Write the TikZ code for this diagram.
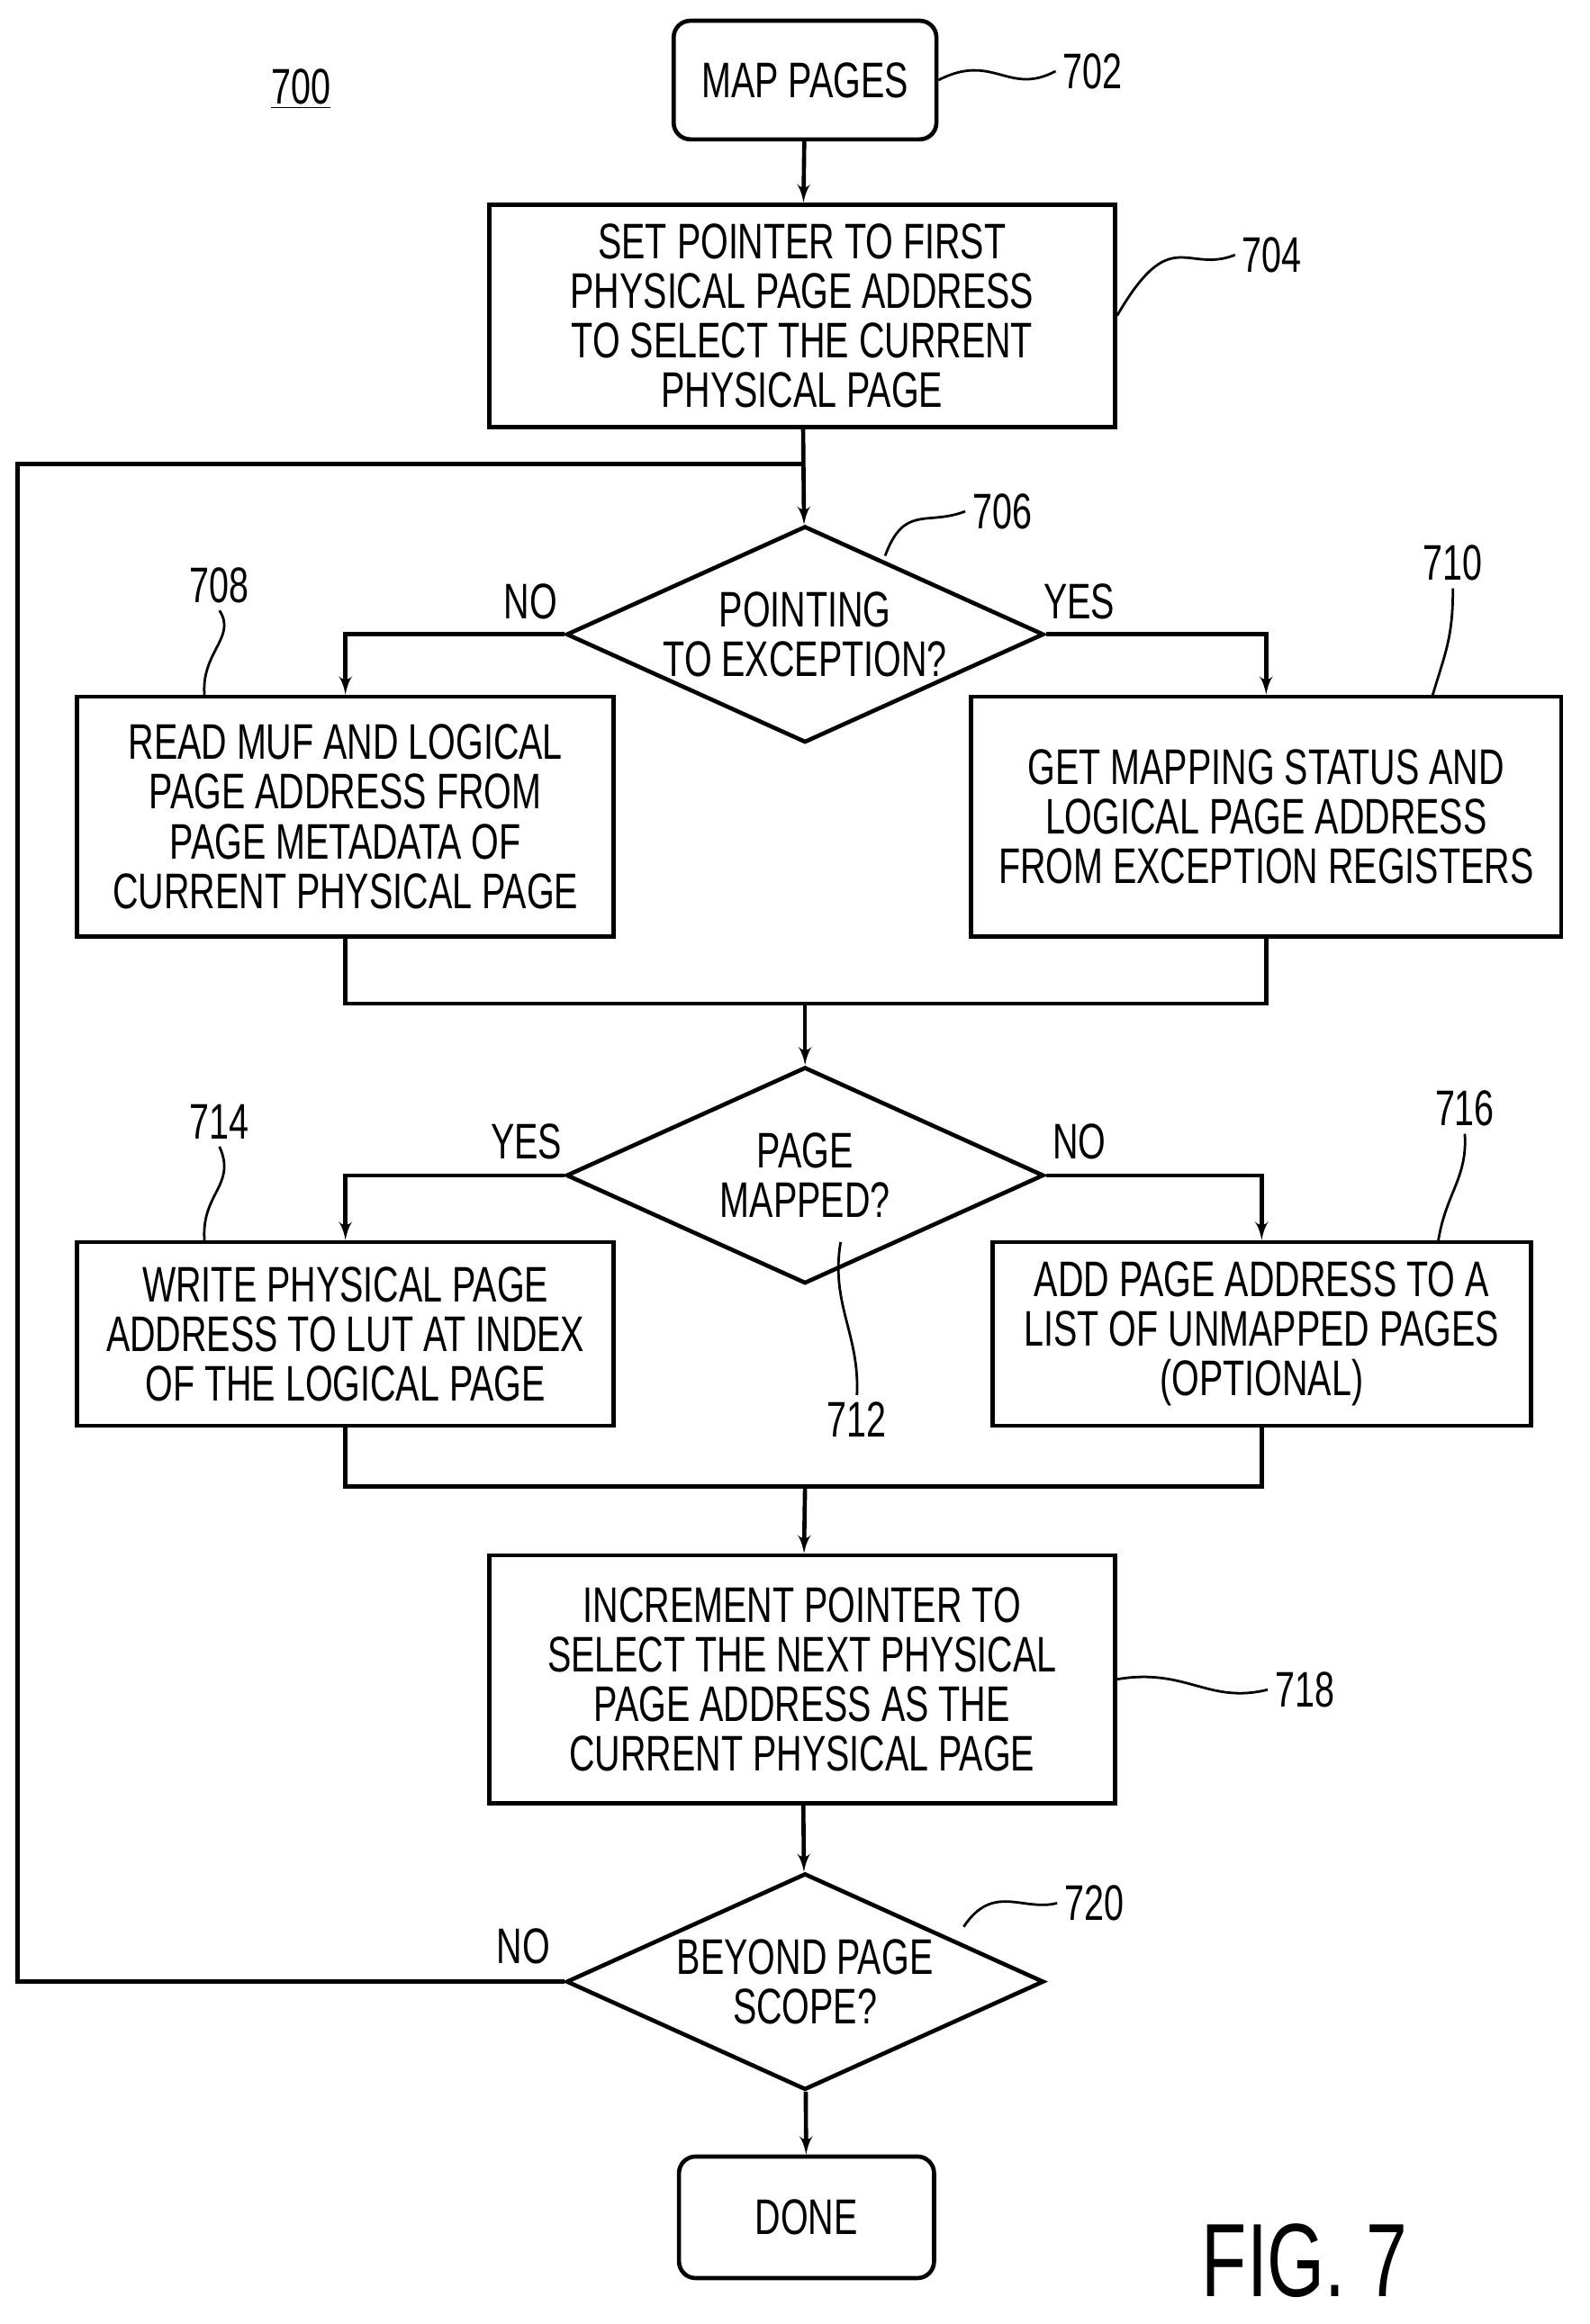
\documentclass[tikz,border=0pt]{standalone}
\usepackage{fontspec}
\setmainfont{Liberation Sans}[FakeStretch=0.71]
\usetikzlibrary{positioning,arrows,shapes.geometric}
\tikzset{
    x=0.025cm,
    y=-0.025cm,
    >=latex',
    every node/.style = {
        font=\fontsize{24}{23.8}\selectfont,
        align=center
    },
    block/.style = {
        draw,
        shape=rectangle,
        inner sep=0pt,
        line width=2pt
    },
    term/.style = {
        block,
        rounded corners=8pt
    },
    decision/.style = {
        draw,
        shape=diamond,
        inner sep=0pt,
        minimum width=8.05cm,
        minimum height=3.65cm,
        aspect=2.2,
        line width=2pt
    },
    flow/.style = {line width=2pt},
    tag/.style = {line width=1.2pt},
}
\begin{document}
\begin{tikzpicture}
    \useasboundingbox (0,0) rectangle (1072,1568);
    \node (fig) at (203,60) {\underline{700}};

    \node[term, minimum width=4.43cm, minimum height=2cm] (map) at (543,54) {MAP PAGES};
    \node[block, minimum width=10.55cm, minimum height=3.75cm] (setptr) at (541,213)
        {SET POINTER TO FIRST\\PHYSICAL PAGE ADDRESS\\TO SELECT THE CURRENT\\PHYSICAL PAGE};
    \node[decision] (except) at (543,428) {POINTING\\TO EXCEPTION?};
    \node[block, minimum width=9.05cm, minimum height=4.05cm] (readmuf) at (233,551)
        {READ MUF AND LOGICAL\\PAGE ADDRESS FROM\\PAGE METADATA OF\\CURRENT PHYSICAL PAGE};
    \node[block, minimum width=9.95cm, minimum height=4.05cm] (getmap) at (854,551)
        {GET MAPPING STATUS AND\\LOGICAL PAGE ADDRESS\\FROM EXCEPTION REGISTERS};
    \node[decision] (mapped) at (543,793) {PAGE\\MAPPED?};
    \node[block, minimum width=9.05cm, minimum height=3.1cm] (writelut) at (233,900)
        {WRITE PHYSICAL PAGE\\ADDRESS TO LUT AT INDEX\\OF THE LOGICAL PAGE};
    \node[block, minimum width=9.08cm, minimum height=3.1cm] (addlist) at (851,900)
        {ADD PAGE ADDRESS TO A\\LIST OF UNMAPPED PAGES\\(OPTIONAL)};
    \node[block, minimum width=10.55cm, minimum height=4.18cm] (incptr) at (541,1133)
        {INCREMENT POINTER TO\\SELECT THE NEXT PHYSICAL\\PAGE ADDRESS AS THE\\CURRENT PHYSICAL PAGE};
    \node[decision] (scope) at (543,1337) {BEYOND PAGE\\SCOPE?};
    \node[term, minimum width=4.3cm, minimum height=2.05cm] (done) at (544,1496) {DONE};

    \coordinate (loop) at (543,313);
    \coordinate (join1) at (543,677);
    \coordinate (join2) at (543,1003);

    % main flow
    \draw[flow, ->] (map) -- (setptr);
    \draw[flow, ->] (setptr) -- (except);
    \draw[flow, ->] (except.west) -| (readmuf.north);
    \draw[flow, ->] (except.east) -| (getmap.north);
    \draw[flow] (readmuf.south) |- (join1) -| (getmap.south);
    \draw[flow, ->] (join1) -- (mapped);
    \draw[flow, ->] (mapped.west) -| (writelut.north);
    \draw[flow, ->] (mapped.east) -| (addlist.north);
    \draw[flow] (writelut.south) |- (join2) -| (addlist.south);
    \draw[flow, ->] (join2) -- (incptr);
    \draw[flow, ->] (incptr) -- (scope);
    \draw[flow, ->] (scope) -- (done);
    \draw[flow] (scope.west) -- (12,1337) -- (12,313) -- (loop);

    \node at (358,406) {NO};
    \node at (728,406) {YES};
    \node at (355,770) {YES};
    \node at (728,770) {NO};
    \node at (353,1313) {NO};

    % reference numerals
    \node (n702) at (737,48) {702};
    \node (n704) at (858,172) {704};
    \node (n706) at (676,345) {706};
    \node (n708) at (148,395) {708};
    \node (n710) at (980,380) {710};
    \node (n712) at (578,958) {712};
    \node (n714) at (148,757) {714};
    \node (n716) at (988,748) {716};
    \node (n718) at (880,1140) {718};
    \node (n720) at (738,1284) {720};
    \draw[tag] (map.east) .. controls (670,35) and (680,65) .. (n702.west);
    \draw[tag] (setptr.east) .. controls (790,150) and (800,185) .. (n704.west);
    \draw[tag] (597,375) .. controls (610,340) and (625,355) .. (n706.west);
    \draw[tag] (138,470) .. controls (135,440) and (160,430) .. (n708.south);
    \draw[tag] (966,470) .. controls (975,440) and (980,430) .. (n710.south);
    \draw[tag] (567,838) .. controls (560,880) and (580,900) .. (n712.north);
    \draw[tag] (138,838) .. controls (135,805) and (160,800) .. (n714.south);
    \draw[tag] (970,838) .. controls (975,805) and (990,795) .. (n716.south);
    \draw[tag] (incptr.east) .. controls (800,1125) and (815,1150) .. (n718.west);
    \draw[tag] (650,1300) .. controls (670,1270) and (690,1290) .. (n720.west);

    \node[font=\fontsize{50}{50}\selectfont] (title) at (880,1525) {FIG. 7};
\end{tikzpicture}
\end{document}
